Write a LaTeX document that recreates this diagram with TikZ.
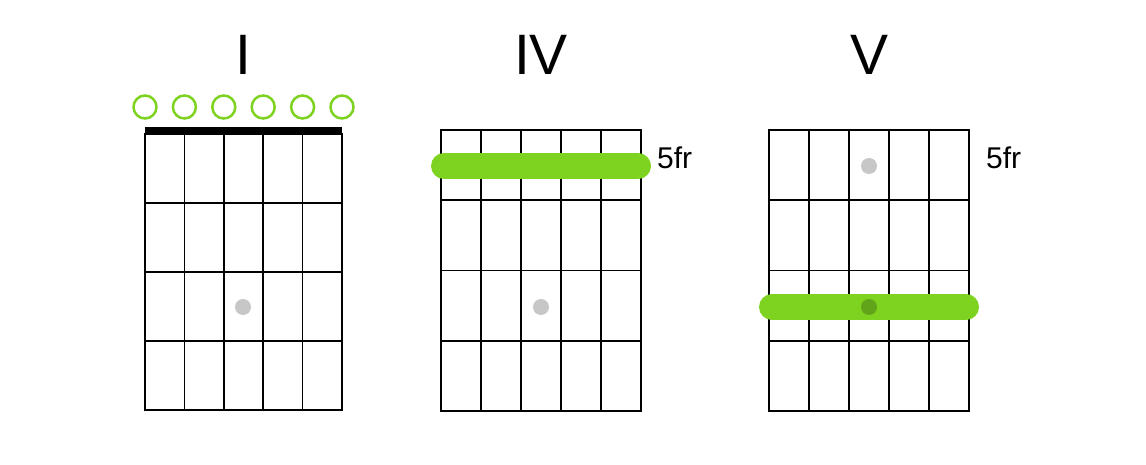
\documentclass[tikz,border=0pt]{standalone}
\usepackage{fontspec}
\setmainfont{Liberation Sans}
\usepackage{tikz}
\definecolor{chordgreen}{RGB}{126,211,33}
\tikzset{
  gridline/.style={line width=1.7pt, black},
  barre/.style={line width=26pt, line cap=round, chordgreen},
  fingerdot/.style={fill=black, fill opacity=0.22, draw=none},
  openstring/.style={draw=chordgreen, line width=2.5pt},
  chordname/.style={font=\fontsize{57}{60}\selectfont, inner sep=0pt, anchor=base},
  fretlabel/.style={font=\fontsize{30}{32}\selectfont, inner sep=0pt, anchor=base west},
}
\def\chordgrid(#1,#2)(#3,#4){%
  \draw[gridline] (#1,#2) rectangle (#3,#4);
  \foreach \k in {1,...,4} {\draw[gridline] ({#1+\k*(#3-#1)/5},#2) -- ({#1+\k*(#3-#1)/5},#4);}
  \foreach \k in {1,2,3} {\draw[gridline] (#1,{#2+\k*(#4-#2)/4}) -- (#3,{#2+\k*(#4-#2)/4});}
}

\begin{document}
\begin{tikzpicture}[x=1pt,y=-1pt]
	\useasboundingbox (0,0) rectangle (1146,465);
	
	% I
	\node[chordname] (titleI) at (243,75) {I};
	\chordgrid(145,134)(342,410)
	\fill[black] (145,127) rectangle (342,134.5);
	\draw[openstring] (145,107) circle (11.5);
	\draw[openstring] (184.4,107) circle (11.5);
	\draw[openstring] (223.8,107) circle (11.5);
	\draw[openstring] (263.2,107) circle (11.5);
	\draw[openstring] (302.6,107) circle (11.5);
	\draw[openstring] (342,107) circle (11.5);
	\fill[fingerdot] (243,307) circle (8);
	
	% IV
	\node[chordname] (titleIV) at (541,75) {IV};
	\chordgrid(441,130)(641,411)
	\draw[barre] (444,166) -- (638,166);
	\fill[fingerdot] (541,307) circle (8);
	\node[fretlabel] (fretIV) at (657,169) {5fr};
	
	% V
	\node[chordname] (titleV) at (869,75) {V};
	\chordgrid(769,130)(969,411)
	\fill[fingerdot] (869,166) circle (8);
	\draw[barre] (772,307) -- (966,307);
	\fill[fingerdot] (869,307) circle (8);
	\node[fretlabel] (fretV) at (986,169) {5fr};
\end{tikzpicture}
\end{document}
